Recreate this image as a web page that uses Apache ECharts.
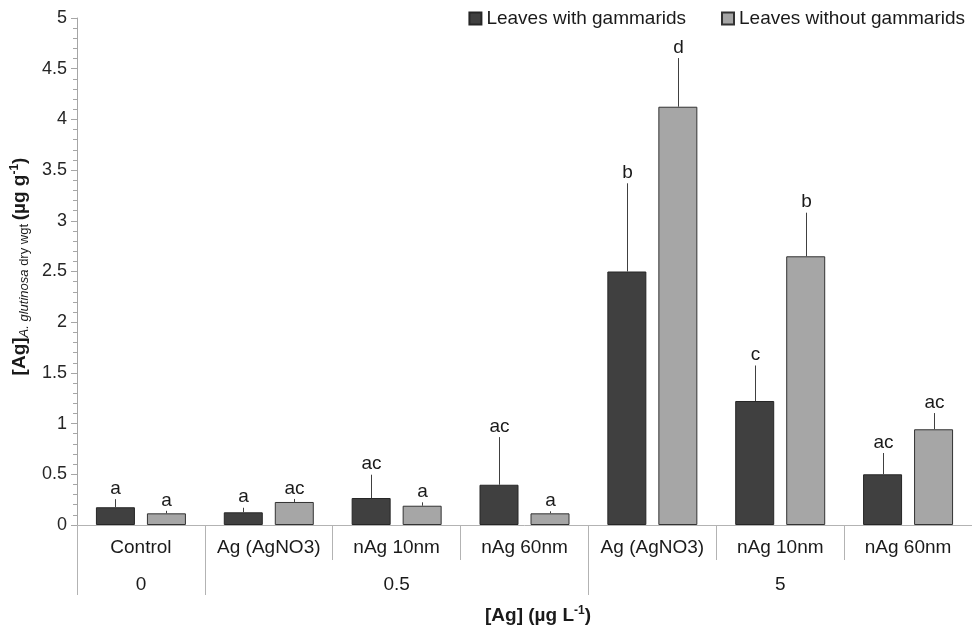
<!DOCTYPE html>
<html>
<head>
<meta charset="utf-8">
<style>
  html, body { margin: 0; padding: 0; background: #fff; }
  #main { width: 972px; height: 630px; }
</style>
<script src="https://cdn.jsdelivr.net/npm/echarts@6/dist/echarts.min.js"></script>
</head>
<body>
<div id="main"></div>
<script>
// categories on the x axis
var categories = ['Control', 'Ag (AgNO3)', 'nAg 10nm', 'nAg 60nm', 'Ag (AgNO3)', 'nAg 10nm', 'nAg 60nm'];
// [Ag] groups under the categories
var groupLabels = ['0', '0.5', '5'];
var groupStarts = [0, 1, 4];
var groupEnds = [1, 4, 7];

// leaves with gammarids
var withMean = [0.175, 0.125, 0.266, 0.397, 2.50, 1.223, 0.50];
var withErr = [0.08, 0.045, 0.23, 0.47, 0.87, 0.35, 0.21];
var withLetters = ['a', 'a', 'ac', 'ac', 'b', 'c', 'ac'];

// leaves without gammarids
var withoutMean = [0.115, 0.227, 0.19, 0.115, 4.125, 2.65, 0.944];
var withoutErr = [0.025, 0.03, 0.034, 0.02, 0.48, 0.43, 0.16];
var withoutLetters = ['a', 'ac', 'a', 'a', 'd', 'b', 'ac'];

var yTicks = { min: 0, max: 5, step: 0.5 };

var FONT = 'Liberation Sans, Arial, sans-serif';
var BAR_W = 39;
var BAR_GAP = 12;

// error bar + letter above it
function errorSeries(means, errs, letters, side) {
    var data = [];
    for (var i = 0; i < means.length; i++) {
        data.push([i, means[i], errs[i]]);
    }
    return {
        type: 'custom',
        xAxisIndex: 0,
        yAxisIndex: 0,
        silent: true,
        z: 5,
        data: data,
        encode: { x: 0, y: [1, 2] },
        renderItem: function(params, api) {
            var idx = api.value(0);
            var m = api.value(1);
            var e = api.value(2);
            var off = side * (BAR_W / 2 + BAR_GAP / 2);
            var p0 = api.coord([idx, m]);
            var p1 = api.coord([idx, m + e]);
            var x = Math.round(p0[0] + off) + 0.5;
            return {
                type: 'group',
                children: [
                    {
                        type: 'line',
                        shape: { x1: x, y1: p0[1], x2: x, y2: p1[1] },
                        style: { stroke: '#404040', lineWidth: 1 }
                    },
                    {
                        type: 'text',
                        x: x,
                        y: p1[1] - 1,
                        style: {
                            text: letters[params.dataIndex],
                            fill: '#1a1a1a',
                            font: '19px ' + FONT,
                            textAlign: 'center',
                            textVerticalAlign: 'bottom'
                        }
                    }
                ]
            };
        }
    };
}

var chart = echarts.init(document.getElementById('main'));

var option = {
    animation: false,
    textStyle: { fontFamily: FONT },
    grid: { left: 77, right: 0, top: 18, bottom: 105 },
    legend: {
        top: 4,
        right: 2,
        icon: 'rect',
        itemWidth: 12,
        itemHeight: 12,
        itemGap: 35,
        textStyle: { fontSize: 19, color: '#1a1a1a', fontFamily: FONT },
        data: ['Leaves with gammarids', 'Leaves without gammarids']
    },
    xAxis: [
        {
            type: 'category',
            data: categories,
            position: 'bottom',
            axisLine: { lineStyle: { color: '#b3b3b3', width: 1 } },
            axisTick: { show: true, length: 35, alignWithLabel: false, lineStyle: { color: '#b3b3b3' } },
            axisLabel: { margin: 13, fontSize: 19, color: '#1a1a1a', fontFamily: FONT, interval: 0 },
            splitLine: { show: false }
        },
        {
            type: 'value',
            min: 0,
            max: categories.length,
            position: 'bottom',
            axisLine: { show: false },
            axisTick: { show: true, length: 70, customValues: groupStarts, lineStyle: { color: '#b3b3b3' } },
            axisLabel: {
                margin: 50,
                fontSize: 19,
                color: '#1a1a1a',
                fontFamily: FONT,
                customValues: groupStarts.map(function(s, i) { return (s + groupEnds[i]) / 2; }),
                formatter: function(v) {
                    for (var i = 0; i < groupStarts.length; i++) {
                        if (Math.abs((groupStarts[i] + groupEnds[i]) / 2 - v) < 1e-6) return groupLabels[i];
                    }
                    return '';
                }
            },
            splitLine: { show: false }
        }
    ],
    yAxis: {
        type: 'value',
        min: yTicks.min,
        max: yTicks.max,
        interval: yTicks.step,
        axisLine: { show: true, lineStyle: { color: '#a6a6a6' } },
        axisTick: { show: true, length: 6, lineStyle: { color: '#a6a6a6' } },
        minorTick: { show: true, splitNumber: 5, length: 4, lineStyle: { color: '#a6a6a6' } },
        splitLine: { show: false },
        axisLabel: { margin: 10, fontSize: 18, color: '#262626', fontFamily: FONT },
        name: '{b|[Ag]}{i|A. glutinosa}{s| dry wgt }{b|(µg g}{sup|-1}{b|)}',
        nameLocation: 'middle',
        nameRotate: 90,
        nameGap: 45,
        nameTextStyle: {
            color: '#1a1a1a',
            padding: [0, 0, 0, 10],
            rich: {
                b: { fontSize: 19, fontWeight: 'bold', fontFamily: FONT, color: '#1a1a1a', lineHeight: 22 },
                i: { fontSize: 13, fontStyle: 'italic', fontFamily: FONT, color: '#1a1a1a', verticalAlign: 'bottom', lineHeight: 22 },
                s: { fontSize: 13, fontFamily: FONT, color: '#1a1a1a', verticalAlign: 'bottom', lineHeight: 22 },
                sup: { fontSize: 12, fontWeight: 'bold', fontFamily: FONT, color: '#1a1a1a', verticalAlign: 'top', lineHeight: 16 }
            }
        }
    },
    graphic: [
        {
            type: 'text',
            left: 485,
            top: 605,
            style: {
                text: '{b|[Ag] (µg L}{sup|-1}{b|)}',
                rich: {
                    b: { fontSize: 19, fontWeight: 'bold', fontFamily: FONT, fill: '#1a1a1a', lineHeight: 22 },
                    sup: { fontSize: 12, fontWeight: 'bold', fontFamily: FONT, fill: '#1a1a1a', verticalAlign: 'top', lineHeight: 16 }
                }
            }
        }
    ],
    series: [
        {
            name: 'Leaves with gammarids',
            type: 'bar',
            xAxisIndex: 0,
            barWidth: BAR_W,
            barGap: (BAR_GAP / BAR_W * 100) + '%',
            data: withMean,
            itemStyle: { color: '#404040', borderColor: '#262626', borderWidth: 1 }
        },
        {
            name: 'Leaves without gammarids',
            type: 'bar',
            xAxisIndex: 0,
            barWidth: BAR_W,
            data: withoutMean,
            itemStyle: { color: '#a6a6a6', borderColor: '#333333', borderWidth: 1 }
        },
        errorSeries(withMean, withErr, withLetters, -1),
        errorSeries(withoutMean, withoutErr, withoutLetters, 1)
    ]
};

chart.setOption(option);
</script>
</body>
</html>
